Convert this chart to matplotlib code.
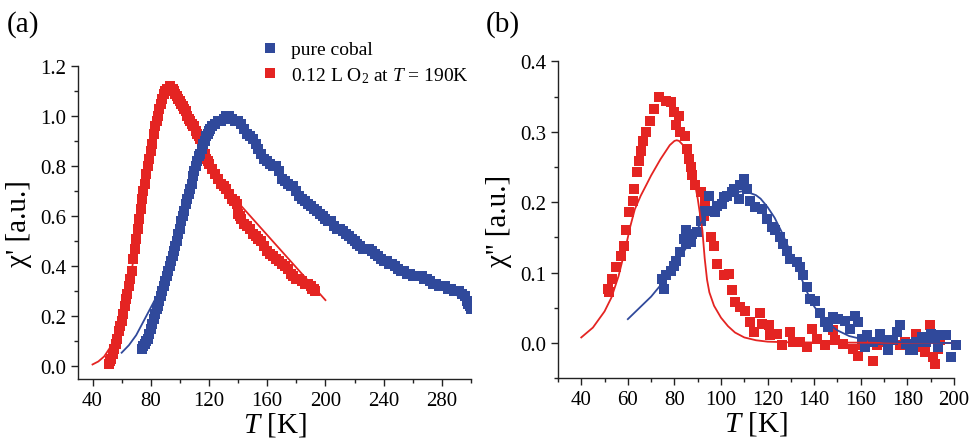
import matplotlib
matplotlib.use('Agg')
import matplotlib.pyplot as plt
from matplotlib.lines import Line2D
from matplotlib.ticker import MultipleLocator, FormatStrFormatter

plt.rcParams['font.family'] = 'Liberation Serif'
plt.rcParams['mathtext.fontset'] = 'custom'
plt.rcParams['mathtext.rm'] = 'Liberation Serif'
plt.rcParams['mathtext.it'] = 'Liberation Serif:italic'

RED = '#e42422'
BLUE = '#30499b'

# ---- panel (a): chi' ----
Ta_red = [51, 52, 53, 54, 55, 56, 57, 58, 59, 60, 61, 62, 63, 64, 65, 66, 67, 68, 69, 70,
          71, 72, 73, 74, 75, 76, 77, 78, 79, 80, 81, 82, 83, 84, 85, 86, 87, 88, 89, 90,
          91, 92, 93, 94, 95, 96, 97, 98, 99, 100, 101, 102, 103, 104, 105, 106, 107, 108,
          109, 110, 111, 112, 113, 114, 115, 116, 117, 118, 119, 120, 122, 124, 126, 128,
          130, 132, 134, 136, 137, 138, 139, 140, 141, 142, 144, 146, 148, 150, 152, 154,
          156, 158, 160, 162, 164, 166, 168, 170, 172, 174, 176, 178, 180, 182, 184, 186,
          188, 190, 191, 192, 193]
chi1_red = [0.01, 0.02, 0.03, 0.05, 0.07, 0.09, 0.11, 0.14, 0.16, 0.18, 0.21, 0.24, 0.27, 0.29,
            0.32, 0.35, 0.38, 0.43, 0.47, 0.51, 0.55, 0.59, 0.63, 0.67, 0.70, 0.73, 0.77, 0.80,
            0.83, 0.86, 0.89, 0.93, 0.96, 0.98, 1.00, 1.03, 1.05, 1.07, 1.09, 1.10, 1.11, 1.11,
            1.12, 1.11, 1.11, 1.10, 1.09, 1.08, 1.07, 1.06, 1.05, 1.04, 1.03, 1.02, 1.00, 0.99,
            0.98, 0.97, 0.96, 0.96, 0.94, 0.93, 0.92, 0.91, 0.90, 0.88, 0.85, 0.83, 0.82, 0.81,
            0.79, 0.77, 0.75, 0.73, 0.72, 0.71, 0.69, 0.67, 0.66, 0.66, 0.65, 0.61, 0.60, 0.59,
            0.57, 0.56, 0.55, 0.53, 0.52, 0.51, 0.50, 0.48, 0.46, 0.45, 0.44, 0.43, 0.42, 0.41,
            0.40, 0.39, 0.37, 0.36, 0.35, 0.35, 0.34, 0.33, 0.33, 0.32, 0.31, 0.31, 0.30]

Ta_blue = [74, 75, 76, 77, 78, 79, 80, 81, 82, 83,
           84, 85, 86, 87, 88, 89, 90, 91, 92, 93,
           94, 95, 96, 97, 98, 99, 100, 101, 102, 103,
           104, 105, 106, 107, 108, 109, 110, 111, 112, 113,
           114, 115, 116, 117, 118, 119, 120, 121, 122,
           124, 126, 128, 130, 132, 134, 136, 138, 140, 142,
           144, 146, 148, 150, 152, 154, 156, 158, 160, 162,
           164, 166, 168, 170, 172, 174, 176, 178, 180, 182,
           184, 186, 188, 190, 192, 194, 196, 198, 200, 202,
           204, 206, 208, 210, 212, 214, 216, 218, 220, 222,
           224, 226, 228, 230, 232, 234, 236, 238, 240, 242,
           244, 246, 248, 250, 252, 254, 256, 258, 260, 262,
           264, 266, 268, 270, 272, 274, 276, 278, 280, 282,
           284, 286, 288, 290, 292, 294, 296, 297, 298, 299, 300]
chi1_blue = [0.07, 0.08, 0.09, 0.10, 0.11, 0.13, 0.15, 0.17, 0.19, 0.21,
             0.23, 0.24, 0.26, 0.28, 0.30, 0.32, 0.34, 0.36, 0.38, 0.40,
             0.42, 0.44, 0.46, 0.48, 0.50, 0.53, 0.55, 0.58, 0.60, 0.62,
             0.65, 0.67, 0.69, 0.71, 0.73, 0.76, 0.78, 0.80, 0.82, 0.84,
             0.85, 0.87, 0.89, 0.90, 0.92, 0.93, 0.94, 0.95, 0.96,
             0.97, 0.98, 0.98, 0.99, 1.00, 1.00, 0.99, 0.98, 0.98, 0.97,
             0.95, 0.93, 0.92, 0.91, 0.89, 0.87, 0.85, 0.83, 0.82, 0.81,
             0.80, 0.80, 0.78, 0.75, 0.74, 0.73, 0.72, 0.72, 0.70, 0.68,
             0.67, 0.66, 0.65, 0.64, 0.63, 0.62, 0.61, 0.60, 0.59, 0.58,
             0.58, 0.56, 0.55, 0.55, 0.54, 0.53, 0.52, 0.51, 0.50, 0.49,
             0.48, 0.47, 0.47, 0.47, 0.46, 0.45, 0.44, 0.43, 0.42, 0.42,
             0.41, 0.41, 0.40, 0.39, 0.38, 0.38, 0.37, 0.37, 0.36, 0.36,
             0.36, 0.36, 0.35, 0.35, 0.34, 0.33, 0.33, 0.32, 0.32, 0.32,
             0.31, 0.31, 0.30, 0.30, 0.30, 0.29, 0.28, 0.26, 0.25, 0.24, 0.23]

# fits
Tfit_a_red = [40, 44, 48, 52, 56, 60, 65, 70, 75, 80, 85, 90, 94, 100, 110, 120, 130, 140,
              150, 160, 170, 180, 190, 200]
fit_a_red = [0.008, 0.02, 0.04, 0.075, 0.12, 0.19, 0.31, 0.50, 0.70, 0.86, 1.00, 1.09, 1.11,
             1.06, 0.95, 0.82, 0.72, 0.655, 0.59, 0.525, 0.46, 0.395, 0.33, 0.265]
Tfit_a_blue = [60, 65, 70, 75, 80, 85, 90, 95, 100, 105, 110, 115, 120, 125, 130, 135, 140,
               150, 160, 170, 180, 200, 220, 240, 260, 280, 300]
fit_a_blue = [0.055, 0.085, 0.125, 0.18, 0.235, 0.29, 0.355, 0.45, 0.56, 0.67, 0.78, 0.87,
              0.94, 0.98, 0.99, 0.99, 0.97, 0.91, 0.83, 0.76, 0.70, 0.59, 0.50, 0.42, 0.36,
              0.31, 0.26]

# ---- panel (b): chi'' ----
Tb_red = [51.3, 52, 53.4, 54.8, 57, 58.4, 59.1, 60.5, 62, 62.7, 63.8, 64.8, 65.5, 66.3, 67.7,
          69.5, 71.2, 73.4, 76.2, 78.4, 79.8, 81.9, 80.5, 82.6, 84.4, 85.5, 86.2, 86.9, 87.7,
          89, 91.2, 93.3, 92.7, 95.5, 97, 98.4, 101.2, 103.3, 104.8, 106.2, 108.3, 110.5,
          112.6, 114, 116.9, 117.6, 120.4, 121.2, 124, 126.2, 129.7, 131.1, 134, 136.9, 139,
          141.1, 144.7, 148.2, 149, 152.5, 156.8, 158.9, 161.1, 165.3, 166.8, 170.4, 173.9,
          176.8, 179, 183.9, 185.3, 187.5, 189.6, 191, 191.7, 193.2, 193.9]
chi2_red = [0.077, 0.072, 0.091, 0.108, 0.124, 0.138, 0.16, 0.186, 0.202, 0.219, 0.243, 0.259,
            0.273, 0.287, 0.30, 0.316, 0.332, 0.349, 0.344, 0.342, 0.328, 0.323, 0.309, 0.30,
            0.294, 0.276, 0.261, 0.25, 0.238, 0.224, 0.214, 0.20, 0.181, 0.150, 0.138, 0.112,
            0.096, 0.098, 0.075, 0.058, 0.051, 0.046, 0.030, 0.016, 0.042, 0.027, 0.025, 0.011,
            0.013, -0.003, 0.016, 0.001, 0.001, -0.006, 0.020, 0.006, -0.003, 0.018, 0.004,
            -0.001, -0.008, -0.018, -0.003, -0.025, -0.003, 0.001, 0.004, -0.003, 0.001, 0.013,
            -0.006, -0.013, 0.025, -0.020, -0.029, -0.008, 0.004]

Tb_blue = [75.5, 74.8, 76.2, 78.4, 79.8, 80.5, 82.6, 84.8, 84.1, 86.9, 87.7, 84.8, 89.8, 91.2,
           93.3, 94.8, 95.5, 97.6, 98.4, 100.5, 101.2, 102.6, 104.8, 105.5, 107.6, 108.3,
           109.7, 111.2, 112.6, 114.7, 117.6, 119.7, 121.9, 123.3, 125.4, 126.8, 128.3, 129.7,
           132.6, 134, 135.4, 136.9, 138.3, 140.4, 142.5, 144.7, 146.1, 148.2, 150.4, 153.2,
           155.4, 157.5, 158.9, 160.4, 162.5, 161.8, 165.3, 168.2, 169.6, 171.8, 173.9, 175.4,
           176.8, 179.6, 181, 182.5, 183.9, 186.1, 188.2, 190.3, 191.7, 193.2, 193.9, 196.7,
           198.9, 201]
chi2_blue = [0.077, 0.091, 0.096, 0.103, 0.110, 0.117, 0.129, 0.141, 0.148, 0.143, 0.155,
             0.160, 0.157, 0.174, 0.188, 0.209, 0.188, 0.186, 0.195, 0.198, 0.207, 0.209,
             0.214, 0.219, 0.205, 0.224, 0.233, 0.219, 0.202, 0.193, 0.19, 0.176, 0.165, 0.160,
             0.150, 0.141, 0.131, 0.120, 0.115, 0.108, 0.096, 0.079, 0.063, 0.060, 0.042, 0.030,
             0.023, 0.037, 0.034, 0.032, 0.020, 0.039, 0.030, 0.006, 0.011, -0.006, 0.001,
             0.013, 0.004, -0.010, 0.004, 0.016, 0.025, -0.001, -0.010, -0.010, 0.001, 0.009,
             0.001, 0.013, 0.009, -0.006, 0.011, 0.011, -0.020, -0.003]

Tfit_b_red = [40, 45, 50, 53, 56, 59, 61, 63, 65.5, 68, 70, 74, 78, 80, 81, 82, 84, 86, 87, 88,
              90, 92, 93, 94, 95, 97, 100, 103, 106, 110, 115, 120, 130, 200]
fit_b_red = [0.008, 0.022, 0.045, 0.065, 0.095, 0.135, 0.165, 0.19, 0.209, 0.225, 0.238, 0.261,
             0.281, 0.287, 0.288, 0.287, 0.28, 0.265, 0.255, 0.24, 0.205, 0.16, 0.12, 0.09,
             0.072, 0.053, 0.036, 0.024, 0.015, 0.008, 0.004, 0.002, 0.001, 0.0]
Tfit_b_blue = [60, 65, 70, 74, 78, 82, 86, 90, 95, 100, 105, 110, 115, 117, 120, 123, 126, 128,
               131, 134, 137, 140, 143, 146, 150, 155, 160, 170, 180, 200]
fit_b_blue = [0.034, 0.05, 0.066, 0.082, 0.10, 0.12, 0.14, 0.163, 0.19, 0.205, 0.213, 0.216,
              0.21, 0.205, 0.193, 0.178, 0.158, 0.143, 0.12, 0.096, 0.072, 0.052, 0.038, 0.028,
              0.018, 0.01, 0.006, 0.002, 0.001, 0.0]

fig = plt.figure(figsize=(9.77, 4.39), dpi=100)
ax1 = fig.add_axes([0.0798, 0.1344, 0.4023, 0.713])
ax2 = fig.add_axes([0.5711, 0.136, 0.4053, 0.722])

ms_a = 7.0
ms_b = 7.0
ax1.plot(Tfit_a_red, fit_a_red, '-', color=RED, lw=1.3, zorder=1)
ax1.plot(Tfit_a_blue, fit_a_blue, '-', color=BLUE, lw=1.3, zorder=1)
ax1.plot(Ta_red, chi1_red, 's', color=RED, ms=ms_a, mew=0, zorder=2)
ax1.plot(Ta_blue, chi1_blue, 's', color=BLUE, ms=ms_a, mew=0, zorder=2)

ax2.plot(Tb_red, chi2_red, 's', color=RED, ms=ms_b, mew=0, zorder=1, clip_on=False)
ax2.plot(Tb_blue, chi2_blue, 's', color=BLUE, ms=ms_b, mew=0, zorder=1, clip_on=False)
ax2.plot(Tfit_b_red, fit_b_red, '-', color=RED, lw=1.3, zorder=3)
ax2.plot(Tfit_b_blue, fit_b_blue, '-', color=BLUE, lw=1.3, zorder=3)

ax1.set_xlim(30, 300)
ax1.set_ylim(-0.05, 1.2)
ax1.xaxis.set_major_locator(MultipleLocator(40))
ax1.xaxis.set_minor_locator(MultipleLocator(20))
ax1.yaxis.set_major_locator(MultipleLocator(0.2))
ax1.yaxis.set_minor_locator(MultipleLocator(0.1))
ax1.yaxis.set_major_formatter(FormatStrFormatter('%.1f'))

ax2.set_xlim(30, 200)
ax2.set_ylim(-0.05, 0.4)
ax2.xaxis.set_major_locator(MultipleLocator(20))
ax2.xaxis.set_minor_locator(MultipleLocator(10))
ax2.yaxis.set_major_locator(MultipleLocator(0.1))
ax2.yaxis.set_minor_locator(MultipleLocator(0.05))
ax2.yaxis.set_major_formatter(FormatStrFormatter('%.1f'))

for ax in (ax1, ax2):
    ax.spines['top'].set_visible(False)
    ax.spines['right'].set_visible(False)
    for s in ('left', 'bottom'):
        ax.spines[s].set_linewidth(1.0)
        ax.spines[s].set_color('#222222')
    ax.tick_params(which='major', direction='out', length=5, width=1.0, labelsize=15,
                   color='#222222')
    ax.tick_params(which='minor', direction='out', length=3, width=1.0, color='#222222')
    ax.set_xlabel(r'$T$ [K]', fontsize=21, labelpad=0)

ax1.set_ylabel("χ' [a.u.]", fontsize=21, labelpad=6)
ax2.set_ylabel("χ'' [a.u.]", fontsize=21, labelpad=6)

fig.text(0.007, 0.975, '(a)', fontsize=21, va='top', ha='left')
fig.text(0.497, 0.975, '(b)', fontsize=21, va='top', ha='left')

handles = [Line2D([], [], ls='none', marker='s', color=BLUE, ms=6.5, mew=0),
           Line2D([], [], ls='none', marker='s', color=RED, ms=6.5, mew=0)]
fig.legend(handles, ['pure cobal', r'0.12 L O$_2$ at $T$ = 190K'], loc='upper left',
           bbox_to_anchor=(0.270, 0.905), frameon=False, fontsize=14, numpoints=1,
           handlelength=0.6, handletextpad=0.8, labelspacing=0.35, borderaxespad=0,
           borderpad=0)

fig.savefig('out.png', dpi=100)
